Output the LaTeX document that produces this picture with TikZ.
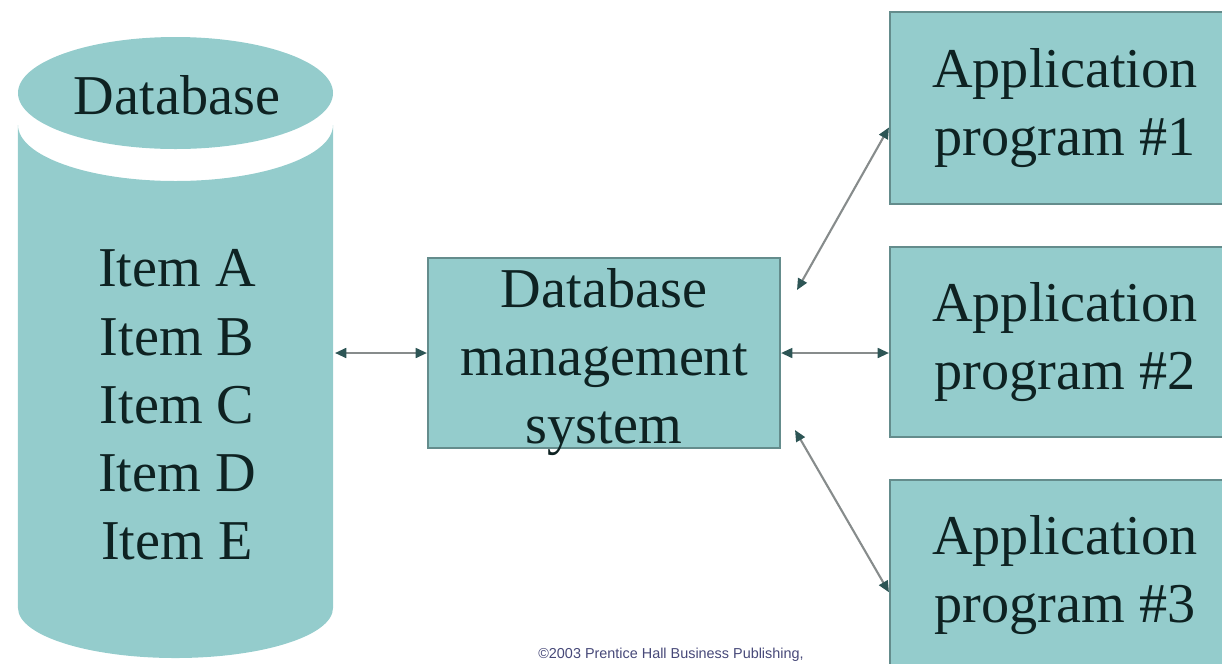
\documentclass[tikz,border=0pt]{standalone}
\usepackage{fontspec}
\setmainfont{Liberation Serif}
\newfontfamily\creditfont{Liberation Sans}
\usepackage{tikz}
\usetikzlibrary{arrows.meta}
\usetikzlibrary{calc}
\definecolor{dbteal}{RGB}{148,204,204}
\definecolor{boxedge}{RGB}{100,140,140}
\definecolor{ink}{RGB}{14,34,34}
\definecolor{linkgray}{RGB}{135,140,140}
\definecolor{tipcol}{RGB}{45,85,85}
\definecolor{creditblue}{RGB}{70,72,120}
\tikzset{bigtext/.style={text=ink, align=center, inner sep=0pt,
         font=\fontsize{16}{19.4}\selectfont},
         tealbox/.style={bigtext, draw=boxedge, line width=0.6pt, fill=dbteal,
         minimum width=3.5cm, minimum height=1.9cm},
         link/.style={draw=linkgray, line width=0.6pt, <->,
         >={Triangle[length=3.2pt,width=2.8pt,color=tipcol]}}}

\begin{document}
\begin{tikzpicture}
        \useasboundingbox (0,0) rectangle (12.22,6.63);

        % Cylinder
        \fill[dbteal] (0.18,5.38) -- (0.18,0.55)
            arc[start angle=180, end angle=360, x radius=1.575, y radius=0.5]
            -- (3.33,5.38)
            arc[start angle=0, end angle=-180, x radius=1.575, y radius=0.56] -- cycle;
        \fill[dbteal] (1.755,5.70) ellipse[x radius=1.575, y radius=0.56];

        \node[bigtext] (dbname) at (1.77,5.68) {Database};
        \node[bigtext] (items) at (1.77,2.58) {Item A\\Item B\\Item C\\Item D\\Item E};

        % Boxes
        \node[tealbox, minimum width=3.52cm] (dbms) at (6.04,3.10) {};
        \node[bigtext] (dbmstext) at (6.04,3.01) {Database\\management\\system};
        \node[tealbox, minimum height=1.92cm] (app1) at (10.65,5.55) {Application\\program \#1};
        \node[tealbox] (app2) at (10.65,3.21) {Application\\program \#2};
        \node[tealbox] (app3) at (10.65,0.88) {Application\\program \#3};

        % Links
        \coordinate (cylR) at (3.35,3.10);
        \coordinate (upS) at (7.97,3.73);
        \coordinate (downS) at (7.95,2.33);
        \draw[link] (cylR) -- (dbms.west);
        \draw[link] (dbms.east) -- (dbms.east -| app2.west);
        \draw[link] (upS) -- ($(app1.south west)!0.4!(app1.north west)$);
        \draw[link] (downS) -- ($(app3.south west)!0.41!(app3.north west)$);

        \node[text=creditblue, inner sep=0pt, font=\creditfont\fontsize{4.1}{4.8}\selectfont]
            (credit) at (6.71,0.08) {\textcopyright2003 Prentice Hall Business Publishing,};
    \end{tikzpicture}
\end{document}
